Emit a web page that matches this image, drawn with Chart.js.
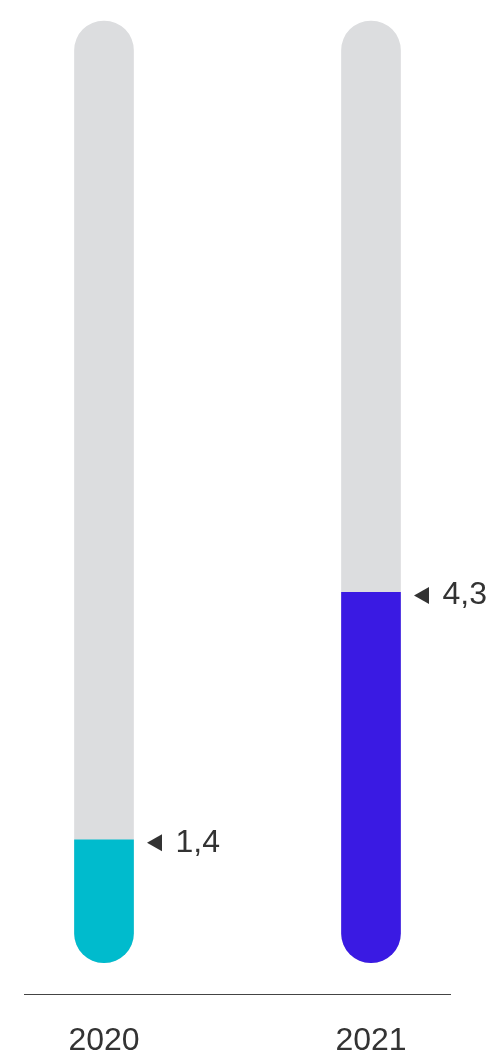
<!DOCTYPE html>
<html>
<head>
<meta charset="utf-8">
<script src="https://cdn.jsdelivr.net/npm/chart.js@4.4.1/dist/chart.umd.min.js"></script>
<style>
  html, body { margin: 0; padding: 0; background: #fff; overflow: hidden; }
  #wrap { position: relative; width: 503px; height: 1111px; }
</style>
</head>
<body>
<div id="wrap"><canvas id="myChart"></canvas></div>
<script>
// thermometer style bars: grey track behind, coloured fill in front
var years = ["2020", "2021"];
var values = [1.4, 4.3];
var track = [11, 11];
var fillColors = ["#00bbcd", "#3a1ae3"];

var trackColor = "#dcdddf";
var textColor = "#333333";
var fontFamily = "'Liberation Sans', Arial, sans-serif";

// arrow + value next to the top of each fill, plus the rule under the bars
var valueMarkers = {
  id: "valueMarkers",
  afterDatasetsDraw: function (chart) {
    var ctx = chart.ctx;
    var meta = chart.getDatasetMeta(0);
    ctx.save();
    ctx.fillStyle = textColor;
    ctx.font = "32px " + fontFamily;
    ctx.textBaseline = "alphabetic";
    meta.data.forEach(function (bar, i) {
      var x = bar.x + bar.width / 2 + 13.5;
      var y = bar.y + 3;
      ctx.beginPath();
      ctx.moveTo(x, y);
      ctx.lineTo(x + 15, y - 8.5);
      ctx.lineTo(x + 15, y + 8.5);
      ctx.closePath();
      ctx.fill();
      ctx.fillText(String(values[i]).replace(".", ","), x + 28.5, bar.y + 12);
    });

    var area = chart.chartArea;
    var ruleY = Math.round(area.bottom) + 31.5;
    ctx.strokeStyle = "#444444";
    ctx.lineWidth = 1;
    ctx.beginPath();
    ctx.moveTo(area.left - 80, ruleY);
    ctx.lineTo(area.right + 80, ruleY);
    ctx.stroke();
    ctx.restore();
  }
};

var config = {
  type: "bar",
  data: {
    labels: years,
    datasets: [
      {
        label: "value",
        data: values,
        backgroundColor: fillColors,
        barThickness: 59,
        base: -0.04,
        borderSkipped: false,
        borderRadius: { topLeft: 0, topRight: 0, bottomLeft: 29.5, bottomRight: 29.5 },
        clip: false
      },
      {
        label: "track",
        data: track,
        backgroundColor: trackColor,
        barThickness: 59,
        base: -0.04,
        borderSkipped: false,
        borderRadius: 29.5,
        clip: false
      }
    ]
  },
  options: {
    responsive: true,
    maintainAspectRatio: false,
    animation: false,
    events: [],
    layout: {
      padding: { top: 21, left: 104, right: 132, bottom: 0 }
    },
    datasets: {
      bar: { grouped: false }
    },
    plugins: {
      legend: { display: false },
      tooltip: { enabled: false }
    },
    scales: {
      x: {
        offset: false,
        grid: { display: false },
        border: { display: false },
        ticks: {
          color: textColor,
          padding: 51,
          autoSkip: false,
          maxRotation: 0,
          font: { family: fontFamily, size: 32 }
        }
      },
      y: {
        display: false,
        min: -0.04,
        max: 11
      }
    }
  },
  plugins: [valueMarkers]
};

var chart = new Chart(document.getElementById("myChart").getContext("2d"), config);
</script>
</body>
</html>
